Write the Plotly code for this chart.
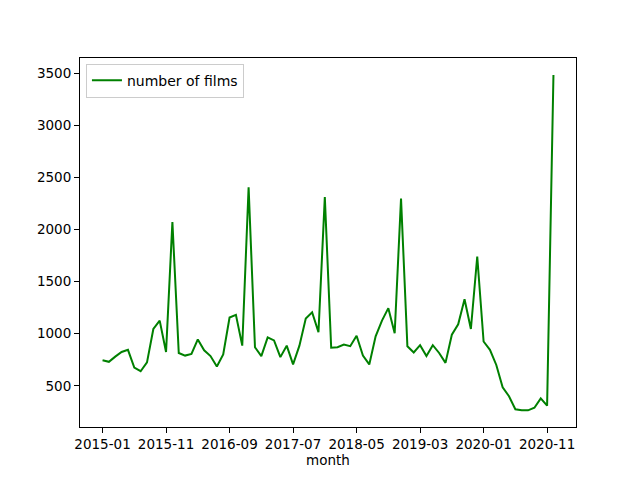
import plotly.graph_objects as go

# monthly counts, 2015-01 .. 2020-12
months = [f"{y}-{m:02d}" for y in range(2015, 2021) for m in range(1, 13)]
films = [745, 730, 780, 825, 845, 675, 640, 725, 1045, 1125, 825, 2070,
         815, 790, 805, 945, 840, 785, 685, 800, 1155, 1180, 885, 2405,
         870, 785, 965, 935, 775, 885, 705, 885, 1145, 1205, 1015, 2310,
         865, 870, 895, 880, 980, 790, 705, 975, 1125, 1245, 1005, 2295,
         880, 820, 890, 785, 890, 815, 720, 990, 1090, 1330, 1045, 1740,
         925, 845, 700, 485, 400, 275, 265, 265, 290, 380, 310, 3480]

tick_labels = months[::10]

fig = go.Figure()
fig.add_trace(go.Scatter(x=months, y=films, mode='lines', name='number of films',
                         line=dict(color='green', width=2)))

# page body adds 8px, so the figure is a bit smaller than the window
fig.update_layout(
    width=632, height=472,
    margin=dict(l=72, r=64, t=50, b=53),
    paper_bgcolor='white', plot_bgcolor='white',
    font=dict(family='DejaVu Sans', size=13.5, color='black'),
    showlegend=True,
    legend=dict(x=0.012, y=0.985, xanchor='left', yanchor='top',
                bordercolor='#cccccc', borderwidth=1, bgcolor='white',
                font=dict(size=14)),
)
fig.update_xaxes(type='category', range=[-3.55, 74.55],
                 tickvals=tick_labels, ticktext=tick_labels,
                 showgrid=False, showline=True, linecolor='black', linewidth=1,
                 mirror=True, ticks='outside', ticklen=5, tickcolor='black',
                 title=dict(text='month', standoff=2, font=dict(size=13.5)))
fig.update_yaxes(range=[105, 3644], tickvals=[500, 1000, 1500, 2000, 2500, 3000, 3500],
                 showgrid=False, showline=True, linecolor='black', linewidth=1,
                 mirror=True, ticks='outside', ticklen=5, tickcolor='black',
                 zeroline=False)

fig.write_html("out.html")
